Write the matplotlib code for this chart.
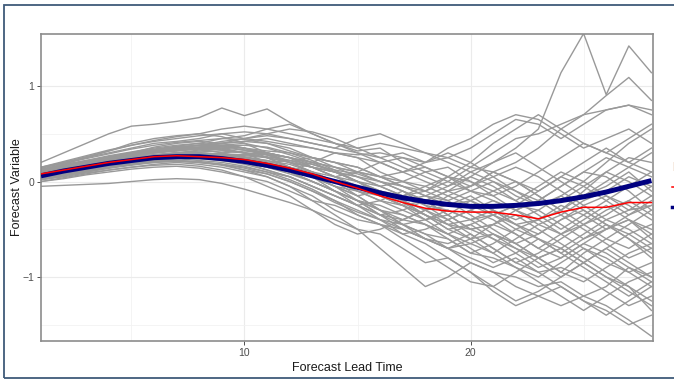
import numpy as np
import matplotlib.pyplot as plt
from matplotlib.patches import Rectangle
from matplotlib.lines import Line2D

plt.rcParams['font.family'] = ['Liberation Sans', 'DejaVu Sans']

# forecast lead time (days)
lead_time = list(range(1, 29))

# ensemble mean (red)
ens_mean = [0.08, 0.12, 0.16, 0.20, 0.23, 0.26, 0.27, 0.26, 0.25, 0.23, 0.19, 0.14, 0.08, 0.00,
            -0.07, -0.15, -0.22, -0.28, -0.31, -0.32, -0.32, -0.35, -0.39, -0.32, -0.27, -0.27, -0.22, -0.22]

# smoothed fit (navy)
smooth_fit = [0.06, 0.11, 0.15, 0.19, 0.22, 0.25, 0.26, 0.26, 0.24, 0.21, 0.17, 0.12, 0.06, 0.00,
              -0.06, -0.12, -0.17, -0.21, -0.24, -0.26, -0.26, -0.25, -0.23, -0.20, -0.16, -0.11, -0.05, 0.01]

# ensemble members (grey)
members = [
    [0.10, 0.15, 0.20, 0.25, 0.30, 0.33, 0.36, 0.38, 0.40, 0.42, 0.45, 0.40, 0.35, 0.30, 0.25, 0.20, 0.10, 0.00, -0.10, -0.05, 0.10, 0.20, 0.35, 0.55, 0.70, 0.75, 0.80, 0.75],
    [0.05, 0.10, 0.14, 0.18, 0.22, 0.25, 0.28, 0.30, 0.28, 0.25, 0.20, 0.10, 0.00, -0.10, -0.20, -0.35, -0.50, -0.60, -0.70, -0.85, -0.95, -1.00, -1.10, -1.05, -1.20, -1.30, -1.45, -1.62],
    [0.20, 0.30, 0.40, 0.50, 0.58, 0.60, 0.63, 0.67, 0.77, 0.69, 0.76, 0.62, 0.50, 0.40, 0.32, 0.35, 0.20, 0.10, 0.15, 0.00, -0.10, -0.20, -0.05, 0.10, 0.00, -0.15, -0.30, -0.25],
    [0.00, 0.04, 0.08, 0.12, 0.15, 0.18, 0.20, 0.18, 0.15, 0.10, 0.05, -0.05, -0.15, -0.30, -0.40, -0.45, -0.60, -0.75, -0.90, -1.05, -1.10, -0.95, -0.80, -0.70, -0.85, -1.00, -1.10, -1.25],
    [0.08, 0.12, 0.17, 0.21, 0.25, 0.28, 0.30, 0.32, 0.34, 0.30, 0.28, 0.20, 0.15, 0.05, 0.00, -0.10, -0.20, -0.15, -0.05, 0.10, 0.20, 0.35, 0.55, 1.14, 1.55, 0.91, 1.42, 1.14],
    [0.15, 0.20, 0.25, 0.30, 0.35, 0.40, 0.42, 0.45, 0.50, 0.52, 0.50, 0.45, 0.40, 0.35, 0.30, 0.25, 0.30, 0.20, 0.25, 0.15, 0.30, 0.45, 0.50, 0.60, 0.70, 0.90, 1.09, 0.85],
    [0.02, 0.06, 0.10, 0.14, 0.18, 0.20, 0.22, 0.20, 0.18, 0.12, 0.05, -0.05, -0.20, -0.35, -0.50, -0.70, -0.90, -1.10, -1.00, -0.85, -0.95, -1.10, -1.20, -1.30, -1.20, -1.10, -0.90, -1.00],
    [0.07, 0.12, 0.16, 0.20, 0.24, 0.27, 0.30, 0.30, 0.28, 0.26, 0.22, 0.18, 0.10, 0.05, -0.05, -0.10, -0.15, -0.25, -0.30, -0.40, -0.35, -0.25, -0.30, -0.45, -0.60, -0.50, -0.40, -0.55],
    [0.10, 0.14, 0.19, 0.23, 0.27, 0.30, 0.32, 0.34, 0.30, 0.25, 0.20, 0.10, 0.05, -0.10, -0.20, -0.25, -0.35, -0.45, -0.55, -0.65, -0.75, -0.60, -0.45, -0.55, -0.70, -0.85, -0.95, -1.10],
    [0.04, 0.09, 0.13, 0.17, 0.20, 0.23, 0.25, 0.24, 0.22, 0.20, 0.15, 0.10, 0.20, 0.30, 0.25, 0.10, 0.00, -0.10, 0.05, 0.20, 0.40, 0.55, 0.70, 0.55, 0.40, 0.30, 0.45, 0.60],
    [0.09, 0.13, 0.18, 0.22, 0.26, 0.30, 0.32, 0.35, 0.38, 0.40, 0.35, 0.28, 0.20, 0.15, 0.10, 0.00, -0.10, -0.20, -0.35, -0.50, -0.60, -0.70, -0.80, -0.95, -0.75, -0.60, -0.45, -0.30],
    [0.06, 0.11, 0.15, 0.19, 0.22, 0.26, 0.28, 0.28, 0.27, 0.25, 0.22, 0.15, 0.05, -0.05, -0.10, -0.20, -0.30, -0.40, -0.35, -0.20, -0.10, 0.00, -0.15, -0.30, -0.10, 0.10, 0.25, 0.20],
    [0.11, 0.16, 0.21, 0.26, 0.30, 0.34, 0.37, 0.40, 0.45, 0.48, 0.55, 0.60, 0.50, 0.40, 0.30, 0.20, 0.10, 0.15, 0.05, -0.10, -0.20, -0.30, -0.45, -0.35, -0.20, -0.10, 0.05, -0.05],
    [0.03, 0.07, 0.11, 0.15, 0.18, 0.21, 0.22, 0.20, 0.17, 0.12, 0.08, 0.00, -0.10, -0.20, -0.30, -0.40, -0.45, -0.55, -0.60, -0.75, -0.80, -0.90, -1.00, -0.85, -0.70, -0.80, -0.95, -0.85],
    [0.13, 0.18, 0.22, 0.27, 0.31, 0.35, 0.38, 0.40, 0.38, 0.35, 0.30, 0.25, 0.15, 0.05, 0.10, 0.20, 0.25, 0.15, 0.05, -0.05, 0.05, 0.15, 0.05, -0.10, -0.25, -0.40, -0.30, -0.15],
    [0.07, 0.11, 0.15, 0.19, 0.23, 0.26, 0.27, 0.26, 0.25, 0.22, 0.18, 0.12, 0.05, -0.05, -0.15, -0.30, -0.45, -0.60, -0.70, -0.60, -0.45, -0.35, -0.50, -0.65, -0.80, -0.95, -1.10, -1.35],
    [0.09, 0.14, 0.18, 0.23, 0.27, 0.30, 0.33, 0.35, 0.36, 0.35, 0.32, 0.30, 0.25, 0.20, 0.10, 0.05, -0.05, -0.15, -0.25, -0.20, -0.30, -0.45, -0.55, -0.40, -0.25, -0.15, -0.25, -0.40],
    [0.05, 0.09, 0.13, 0.17, 0.20, 0.22, 0.24, 0.22, 0.20, 0.16, 0.10, 0.05, -0.05, -0.15, -0.25, -0.20, -0.10, -0.25, -0.40, -0.55, -0.70, -0.85, -0.75, -0.60, -0.45, -0.30, -0.20, -0.35],
    [0.14, 0.20, 0.26, 0.32, 0.38, 0.42, 0.45, 0.48, 0.50, 0.45, 0.42, 0.38, 0.35, 0.30, 0.28, 0.30, 0.25, 0.20, 0.35, 0.45, 0.60, 0.70, 0.65, 0.50, 0.35, 0.45, 0.55, 0.40],
    [0.02, 0.05, 0.09, 0.12, 0.15, 0.17, 0.18, 0.16, 0.12, 0.05, -0.05, -0.15, -0.30, -0.45, -0.55, -0.50, -0.40, -0.30, -0.45, -0.60, -0.75, -0.90, -1.05, -1.20, -1.35, -1.20, -1.05, -0.95],
    [0.08, 0.13, 0.17, 0.21, 0.25, 0.28, 0.30, 0.29, 0.28, 0.27, 0.25, 0.20, 0.15, 0.10, 0.00, -0.10, -0.20, -0.30, -0.40, -0.30, -0.20, -0.30, -0.40, -0.30, -0.15, 0.00, 0.15, 0.30],
    [0.10, 0.15, 0.19, 0.24, 0.28, 0.31, 0.34, 0.36, 0.38, 0.35, 0.28, 0.20, 0.10, 0.00, -0.10, -0.20, -0.25, -0.35, -0.50, -0.60, -0.55, -0.65, -0.80, -0.95, -1.05, -0.90, -0.75, -0.65],
    [0.06, 0.10, 0.14, 0.18, 0.21, 0.24, 0.26, 0.27, 0.25, 0.22, 0.20, 0.22, 0.25, 0.20, 0.15, 0.05, 0.10, 0.20, 0.30, 0.20, 0.05, -0.10, -0.20, -0.05, 0.10, 0.25, 0.15, 0.05],
    [0.12, 0.17, 0.22, 0.26, 0.30, 0.33, 0.35, 0.36, 0.33, 0.30, 0.25, 0.15, 0.10, 0.00, -0.10, -0.15, -0.25, -0.35, -0.45, -0.50, -0.45, -0.55, -0.70, -0.55, -0.45, -0.60, -0.70, -0.55],
    [0.04, 0.08, 0.12, 0.16, 0.19, 0.22, 0.24, 0.25, 0.22, 0.18, 0.12, 0.05, -0.05, -0.15, -0.25, -0.35, -0.30, -0.20, -0.10, -0.20, -0.35, -0.50, -0.60, -0.75, -0.90, -1.05, -1.20, -1.05],
    [0.11, 0.15, 0.20, 0.24, 0.28, 0.32, 0.35, 0.38, 0.42, 0.45, 0.48, 0.45, 0.40, 0.35, 0.45, 0.50, 0.40, 0.30, 0.20, 0.10, 0.00, -0.15, -0.25, -0.15, 0.00, 0.20, 0.40, 0.55],
    [0.07, 0.11, 0.16, 0.20, 0.24, 0.27, 0.29, 0.28, 0.26, 0.22, 0.18, 0.10, 0.00, -0.10, -0.25, -0.40, -0.55, -0.50, -0.40, -0.30, -0.40, -0.55, -0.70, -0.80, -0.65, -0.50, -0.40, -0.50],
    [0.09, 0.13, 0.17, 0.21, 0.25, 0.28, 0.30, 0.31, 0.32, 0.30, 0.25, 0.20, 0.15, 0.10, 0.05, 0.00, -0.05, -0.10, -0.20, -0.35, -0.50, -0.65, -0.55, -0.40, -0.30, -0.45, -0.60, -0.75],
    [0.00, 0.03, 0.07, 0.10, 0.13, 0.15, 0.16, 0.14, 0.10, 0.05, 0.00, -0.10, -0.20, -0.25, -0.35, -0.45, -0.55, -0.65, -0.80, -0.95, -1.10, -1.25, -1.15, -1.00, -0.85, -1.00, -1.15, -1.30],
    [0.15, 0.21, 0.27, 0.33, 0.38, 0.43, 0.47, 0.50, 0.55, 0.58, 0.55, 0.50, 0.45, 0.40, 0.35, 0.40, 0.35, 0.30, 0.25, 0.35, 0.50, 0.65, 0.60, 0.45, 0.60, 0.75, 0.80, 0.70],
    [0.06, 0.10, 0.14, 0.18, 0.22, 0.25, 0.27, 0.27, 0.26, 0.24, 0.20, 0.15, 0.08, 0.00, -0.05, -0.10, -0.20, -0.30, -0.25, -0.15, -0.30, -0.45, -0.40, -0.25, -0.35, -0.50, -0.35, -0.20],
    [0.08, 0.12, 0.16, 0.20, 0.24, 0.27, 0.29, 0.30, 0.29, 0.28, 0.26, 0.22, 0.15, 0.05, -0.05, -0.15, -0.25, -0.40, -0.55, -0.70, -0.85, -0.75, -0.60, -0.70, -0.85, -0.70, -0.55, -0.45],
    [0.10, 0.14, 0.19, 0.23, 0.27, 0.31, 0.33, 0.34, 0.35, 0.33, 0.30, 0.25, 0.20, 0.10, 0.00, -0.05, 0.00, 0.10, 0.00, -0.10, -0.15, -0.05, 0.10, 0.25, 0.40, 0.30, 0.20, 0.35],
    [0.05, 0.09, 0.13, 0.17, 0.20, 0.23, 0.25, 0.24, 0.23, 0.20, 0.15, 0.08, 0.00, -0.10, -0.20, -0.30, -0.40, -0.45, -0.55, -0.45, -0.35, -0.45, -0.60, -0.75, -0.60, -0.45, -0.55, -0.70],
    [0.12, 0.17, 0.21, 0.25, 0.29, 0.33, 0.36, 0.38, 0.40, 0.42, 0.40, 0.35, 0.25, 0.15, 0.05, -0.05, -0.15, -0.10, 0.00, 0.15, 0.10, 0.00, -0.10, 0.05, 0.20, 0.35, 0.20, 0.10],
    [0.03, 0.07, 0.10, 0.14, 0.17, 0.20, 0.21, 0.20, 0.18, 0.15, 0.10, 0.02, -0.08, -0.20, -0.35, -0.45, -0.50, -0.60, -0.70, -0.80, -0.90, -0.80, -0.95, -1.10, -1.25, -1.40, -1.25, -1.10],
    [0.09, 0.14, 0.18, 0.22, 0.26, 0.30, 0.33, 0.36, 0.40, 0.45, 0.50, 0.55, 0.52, 0.45, 0.35, 0.25, 0.15, 0.05, -0.05, 0.05, 0.20, 0.30, 0.15, 0.00, -0.15, -0.05, 0.10, -0.10],
    [0.07, 0.11, 0.15, 0.19, 0.23, 0.26, 0.28, 0.27, 0.24, 0.20, 0.15, 0.10, 0.05, -0.05, -0.15, -0.10, -0.20, -0.35, -0.50, -0.45, -0.60, -0.75, -0.90, -0.80, -0.65, -0.75, -0.90, -1.05],
    [0.11, 0.16, 0.20, 0.25, 0.29, 0.32, 0.34, 0.35, 0.33, 0.30, 0.28, 0.25, 0.20, 0.15, 0.10, 0.05, 0.00, -0.05, -0.15, -0.25, -0.35, -0.25, -0.10, 0.05, -0.05, -0.20, -0.35, -0.25],
    [0.05, 0.10, 0.14, 0.18, 0.21, 0.24, 0.26, 0.26, 0.24, 0.20, 0.12, 0.05, -0.05, -0.15, -0.25, -0.35, -0.45, -0.40, -0.30, -0.40, -0.55, -0.70, -0.85, -1.00, -0.85, -0.70, -0.85, -1.00],
    [-0.05, -0.04, -0.03, -0.02, 0.00, 0.02, 0.03, 0.02, -0.02, -0.08, -0.15, -0.22, -0.30, -0.40, -0.50, -0.55, -0.70, -0.85, -0.80, -0.95, -1.15, -1.30, -1.20, -1.10, -1.25, -1.35, -1.50, -1.40],
    [0.12, 0.18, 0.25, 0.32, 0.40, 0.45, 0.48, 0.50, 0.47, 0.40, 0.30, 0.20, 0.10, 0.00, -0.15, -0.30, -0.45, -0.55, -0.70, -0.65, -0.55, -0.65, -0.80, -0.70, -0.55, -0.40, -0.50, -0.65],
    [0.02, 0.06, 0.11, 0.15, 0.19, 0.22, 0.24, 0.25, 0.26, 0.28, 0.30, 0.25, 0.15, 0.10, 0.00, -0.15, -0.25, -0.20, -0.35, -0.50, -0.45, -0.30, -0.20, -0.35, -0.50, -0.65, -0.80, -0.70],
    [0.09, 0.14, 0.19, 0.24, 0.30, 0.36, 0.40, 0.42, 0.40, 0.35, 0.25, 0.15, 0.05, -0.05, -0.20, -0.35, -0.40, -0.30, -0.15, -0.05, 0.10, 0.00, -0.15, -0.30, -0.45, -0.35, -0.20, -0.05],
    [0.06, 0.10, 0.15, 0.19, 0.23, 0.27, 0.30, 0.33, 0.35, 0.30, 0.20, 0.10, 0.00, -0.10, -0.20, -0.30, -0.35, -0.45, -0.60, -0.75, -0.65, -0.50, -0.40, -0.55, -0.40, -0.25, -0.40, -0.60],
    [0.14, 0.19, 0.24, 0.29, 0.34, 0.38, 0.41, 0.43, 0.45, 0.44, 0.40, 0.32, 0.25, 0.20, 0.15, 0.05, -0.05, -0.15, -0.20, -0.10, 0.00, -0.10, -0.25, -0.20, -0.05, 0.10, 0.00, -0.15],
    [0.04, 0.08, 0.12, 0.16, 0.19, 0.21, 0.22, 0.21, 0.18, 0.14, 0.08, 0.00, -0.10, -0.22, -0.32, -0.40, -0.50, -0.60, -0.65, -0.55, -0.70, -0.85, -0.95, -0.90, -1.00, -1.15, -1.30, -1.20],
    [0.10, 0.15, 0.20, 0.25, 0.29, 0.33, 0.36, 0.38, 0.37, 0.33, 0.28, 0.22, 0.18, 0.12, 0.08, 0.00, -0.10, -0.20, -0.10, 0.05, -0.05, -0.20, -0.35, -0.50, -0.35, -0.20, -0.05, 0.10],
    [0.08, 0.12, 0.17, 0.22, 0.27, 0.31, 0.34, 0.36, 0.37, 0.38, 0.36, 0.30, 0.22, 0.12, 0.00, -0.12, -0.22, -0.35, -0.45, -0.40, -0.30, -0.40, -0.30, -0.15, -0.30, -0.45, -0.60, -0.80],
    [0.05, 0.09, 0.14, 0.18, 0.22, 0.25, 0.27, 0.28, 0.30, 0.32, 0.30, 0.25, 0.18, 0.10, 0.05, -0.05, -0.15, -0.05, 0.05, 0.00, -0.15, -0.30, -0.20, -0.05, 0.10, 0.05, -0.10, -0.30],
]

fig = plt.figure(figsize=(6.74, 3.82), dpi=100)
ax = fig.add_axes([41/674, 1 - 341/382, 612/674, 307/382])

for m in members:
    ax.plot(lead_time, m, color='#999999', lw=1.0, zorder=2)
ax.plot(lead_time, smooth_fit, color='#000080', lw=3.6, zorder=3, solid_capstyle='butt')
ax.plot(lead_time, ens_mean, color='#ff0000', lw=1.1, zorder=4)

ax.set_xlim(1, 28.07)
ax.set_ylim(-1.67, 1.545)
ax.set_xticks([10, 20])
ax.set_yticks([-1, 0, 1])
ax.set_xticks([5, 15, 25], minor=True)
ax.set_yticks([-1.5, -0.5, 0.5], minor=True)
ax.grid(which='major', color='#ebebeb', lw=0.8)
ax.grid(which='minor', color='#f2f2f2', lw=0.6)
ax.set_axisbelow(True)
ax.tick_params(which='major', length=3, width=0.6, color='#333333',
               labelsize=7.5, labelcolor='#4d4d4d', pad=2)
ax.tick_params(which='minor', length=0)
for s in ax.spines.values():
    s.set_color('#8c8c8c')
    s.set_linewidth(1.2)

ax.set_xlabel('Forecast Lead Time', fontsize=9, color='#1a1a1a', labelpad=3)
ax.set_ylabel('Forecast Variable', fontsize=9, color='#1a1a1a')
ax.yaxis.set_label_coords(-0.029, 0.5)

# outer window frame
fig.patches.append(Rectangle((4/674, 1 - 378/382), 1.2, 373/382, transform=fig.transFigure,
                             fill=False, edgecolor='#3f5b7a', lw=1.3))

# clipped legend at the right edge
fig.text(672/674, 1 - 168/382, 'F', color='#b8651b', fontsize=9, fontweight='bold', va='center')
fig.add_artist(Line2D([672/674, 690/674], [1 - 187/382] * 2, color='#ff0000', lw=1.1,
                      transform=fig.transFigure))
fig.add_artist(Line2D([672/674, 690/674], [1 - 207/382] * 2, color='#000080', lw=2.5,
                      transform=fig.transFigure))

fig.savefig('out.png', dpi=100)
